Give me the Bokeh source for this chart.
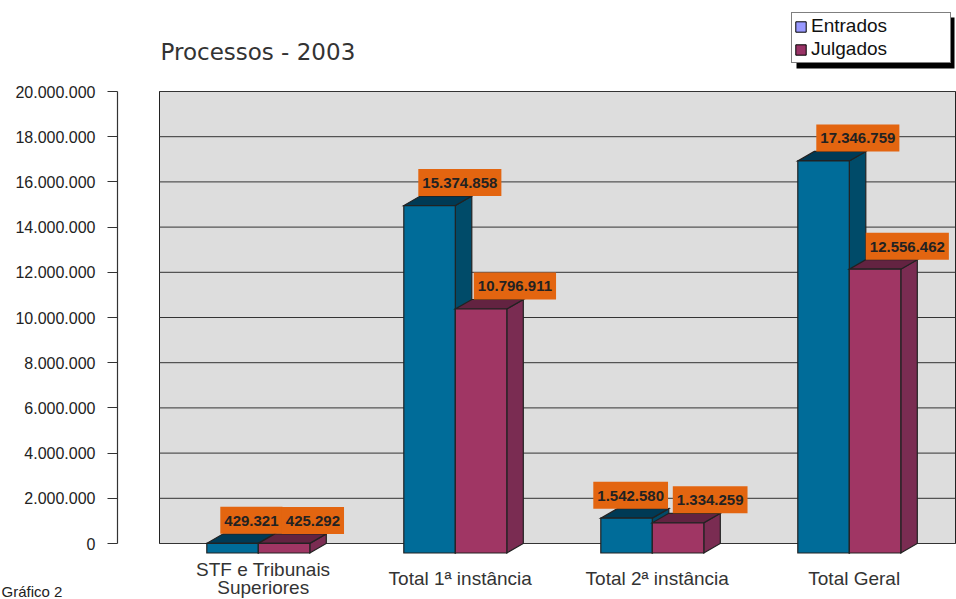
from bokeh.plotting import figure
from bokeh.models import (Range1d, FixedTicker, LabelSet, Label, ColumnDataSource,
                          Legend, LegendItem)
from bokeh.core.properties import value
from bokeh.embed import file_html
from bokeh.resources import INLINE

# ---------------- data ----------------
title_text = "Processos - 2003"
categories = ["STF e Tribunais\nSuperiores", "Total 1ª instância",
              "Total 2ª instância", "Total Geral"]
series_names = ["Entrados", "Julgados"]
entrados = [429321, 15374858, 1542580, 17346759]
julgados = [425292, 10796911, 1334259, 12556462]
entrados_labels = ["429.321", "15.374.858", "1.542.580", "17.346.759"]
julgados_labels = ["425.292", "10.796.911", "1.334.259", "12.556.462"]
y_ticks = [0, 2000000, 4000000, 6000000, 8000000, 10000000,
           12000000, 14000000, 16000000, 18000000, 20000000]
y_tick_labels = ["0", "2.000.000", "4.000.000", "6.000.000", "8.000.000",
                 "10.000.000", "12.000.000", "14.000.000", "16.000.000",
                 "18.000.000", "20.000.000"]
footer_text = "Gráfico 2"

# ---------------- styling / geometry ----------------
W, H = 956, 599
PX_PER_CAT = 197.0
Y_MAX = y_ticks[-1]
PX_PER_VAL = 452.0 / Y_MAX
WALL_LEFT_PX, WALL_BOTTOM_PX, WALL_TOP_PX = 159.0, 543.0, 91.0
X_START = -WALL_LEFT_PX / PX_PER_CAT
X_END = (W - WALL_LEFT_PX) / PX_PER_CAT
Y_START = -(H - WALL_BOTTOM_PX) / PX_PER_VAL
Y_END = Y_MAX + WALL_TOP_PX / PX_PER_VAL
AXIS_X = (117.0 - WALL_LEFT_PX) / PX_PER_CAT
WALL_EXTRA = 8.0 / PX_PER_CAT
DX = 16.5 / PX_PER_CAT          # depth offset (x)
DY = 9.5 / PX_PER_VAL           # depth offset (y)
BAR_OFF = 47.3 / PX_PER_CAT
BAR_W = 51.5 / PX_PER_CAT
CAT_BASELINE, CAT_LINE_STEP = 584, 18
LEGEND_BOX = dict(left=791, right=949, top=12, bottom=63)   # page pixels
SHADOW = 5


def px_x(px):
    return X_START + px / PX_PER_CAT


def px_y(py):
    return Y_END - py / PX_PER_VAL


colors = [dict(front="#006C99", side="#004B69", top="#003A55"),
          dict(front="#A03664", side="#7A2C52", top="#632341")]
legend_colors = ["#9999FF", "#993366"]
label_nudges = [[-3, -2, -24, 2], [7, 2, 4, 0]]
OUTLINE = "#222222"
ORANGE = "#E36510"

p = figure(width=W, height=H,
           x_range=Range1d(X_START, X_END), y_range=Range1d(Y_START, Y_END),
           output_backend="svg", toolbar_location=None, title=None,
           min_border=0)
p.outline_line_color = None
p.grid.visible = False
p.xaxis.visible = False
p.background_fill_color = "white"
p.border_fill_color = "white"

n = len(categories)

# back wall
p.quad(left=[0], right=[n + WALL_EXTRA], bottom=[y_ticks[0]], top=[Y_MAX],
       fill_color="#DDDDDD", line_color=OUTLINE, line_width=1)
# gridlines on the wall
p.segment(x0=[0] * len(y_ticks), x1=[n + WALL_EXTRA] * len(y_ticks), y0=y_ticks, y1=y_ticks,
          line_color="#333333", line_width=1)
# axis line (only along the wall height)
p.segment(x0=[AXIS_X], x1=[AXIS_X], y0=[y_ticks[0]], y1=[Y_MAX],
          line_color="#333333", line_width=1.2)

# 3D bars
for s, vals in enumerate([entrados, julgados]):
    lefts = [i + BAR_OFF + s * BAR_W for i in range(n)]
    rights = [l + BAR_W for l in lefts]
    side_xs = [[r, r + DX, r + DX, r] for r in rights]
    side_ys = [[-DY, 0, v, v - DY] for v in vals]
    top_xs = [[l, r, r + DX, l + DX] for l, r in zip(lefts, rights)]
    top_ys = [[v - DY, v - DY, v, v] for v in vals]
    p.patches(xs=side_xs, ys=side_ys, fill_color=colors[s]["side"],
              line_color=OUTLINE, line_width=1.2, line_join="miter")
    p.patches(xs=top_xs, ys=top_ys, fill_color=colors[s]["top"],
              line_color=OUTLINE, line_width=1.2, line_join="miter")
    p.quad(left=lefts, right=rights, bottom=[-DY] * n, top=[v - DY for v in vals],
           fill_color=colors[s]["front"], line_color=OUTLINE, line_width=1.2,
           line_join="miter")

# value labels
for s, (vals, labs) in enumerate([(entrados, entrados_labels), (julgados, julgados_labels)]):
    xs = [i + BAR_OFF + s * BAR_W + DX for i in range(n)]
    p.text(x=xs, y=vals, text=labs, x_offset=label_nudges[s],
           text_font=value("Liberation Sans"), text_font_style="bold",
           text_font_size="15px", text_color="#222222",
           text_align="left", text_baseline="bottom",
           background_fill_color=ORANGE,
           padding=dict(left=4, right=4, top=9, bottom=8))

# y axis, placed at a fixed location inside the canvas
p.yaxis.fixed_location = AXIS_X
p.yaxis.ticker = FixedTicker(ticks=y_ticks)
p.yaxis.major_label_overrides = {t: l for t, l in zip(y_ticks, y_tick_labels)}
p.yaxis.axis_line_color = None
p.yaxis.major_tick_out = 10
p.yaxis.major_tick_in = 0
p.yaxis.minor_tick_line_color = None
p.yaxis.major_tick_line_color = "#333333"
p.yaxis.major_tick_line_width = 1.2
p.yaxis.major_label_standoff = 12
p.yaxis.major_label_text_font = "Liberation Sans"
p.yaxis.major_label_text_font_size = "16px"
p.yaxis.major_label_text_color = "#222222"

# category labels (one row per text line, centred under each group)
cx, cy, ct = [], [], []
for i, cat in enumerate(categories):
    lines = cat.split("\n")
    for k, line in enumerate(lines):
        cx.append(i + BAR_OFF + BAR_W + 0.025)
        base = CAT_BASELINE + (k - (len(lines) - 1) / 2) * CAT_LINE_STEP
        cy.append(H - base)
        ct.append(line)
cat_src = ColumnDataSource(dict(x=cx, y=cy, text=ct))
p.add_layout(LabelSet(x="x", y="y", text="text", source=cat_src,
                      x_units="data", y_units="screen",
                      text_align="center", text_baseline="alphabetic",
                      text_font=value("Liberation Sans"), text_font_size="19px",
                      text_color="#333333"))

# title
p.add_layout(Label(x=160, y=H - 51, x_units="screen", y_units="screen",
                   text=title_text, text_font="DejaVu Sans",
                   text_font_size="23px", text_color="#333333",
                   text_align="left", text_baseline="alphabetic"))

# footer
p.add_layout(Label(x=1, y=0, x_units="screen", y_units="screen",
                   text=footer_text, text_font="Liberation Sans",
                   text_font_size="15px", text_color="#222222",
                   text_align="left", text_baseline="bottom"))

# legend shadow (decoration, drawn beneath the legend box)
p.quad(left=[px_x(LEGEND_BOX["left"] + SHADOW)], right=[px_x(LEGEND_BOX["right"] + SHADOW)],
       top=[px_y(LEGEND_BOX["top"] + SHADOW)], bottom=[px_y(LEGEND_BOX["bottom"] + SHADOW)],
       fill_color="#000000", line_color=None)

# legend (renderers with no drawable points carry the legend colours)
nan = float("nan")
dummies = [p.quad(left=[nan], right=[nan], top=[nan], bottom=[nan], fill_color=c,
                  line_color="#000000", line_width=1) for c in legend_colors]
legend = Legend(items=[LegendItem(label=nm, renderers=[r]) for nm, r in zip(series_names, dummies)],
                location=(LEGEND_BOX["left"], H - LEGEND_BOX["bottom"]),
                background_fill_color="#FFFFFF",
                background_fill_alpha=1, border_line_color="#000000",
                border_line_width=1, label_text_color="#111111",
                padding=2, spacing=1, label_height=20, glyph_height=13, glyph_width=13,
                label_standoff=4,
                label_width=(LEGEND_BOX["right"] - LEGEND_BOX["left"]) - 2 * 2 - 13 - 4,
                margin=0,
                label_text_font="Liberation Sans", label_text_font_size="19px")
p.add_layout(legend, "center")

open("out.html", "w").write(file_html(p, INLINE))
